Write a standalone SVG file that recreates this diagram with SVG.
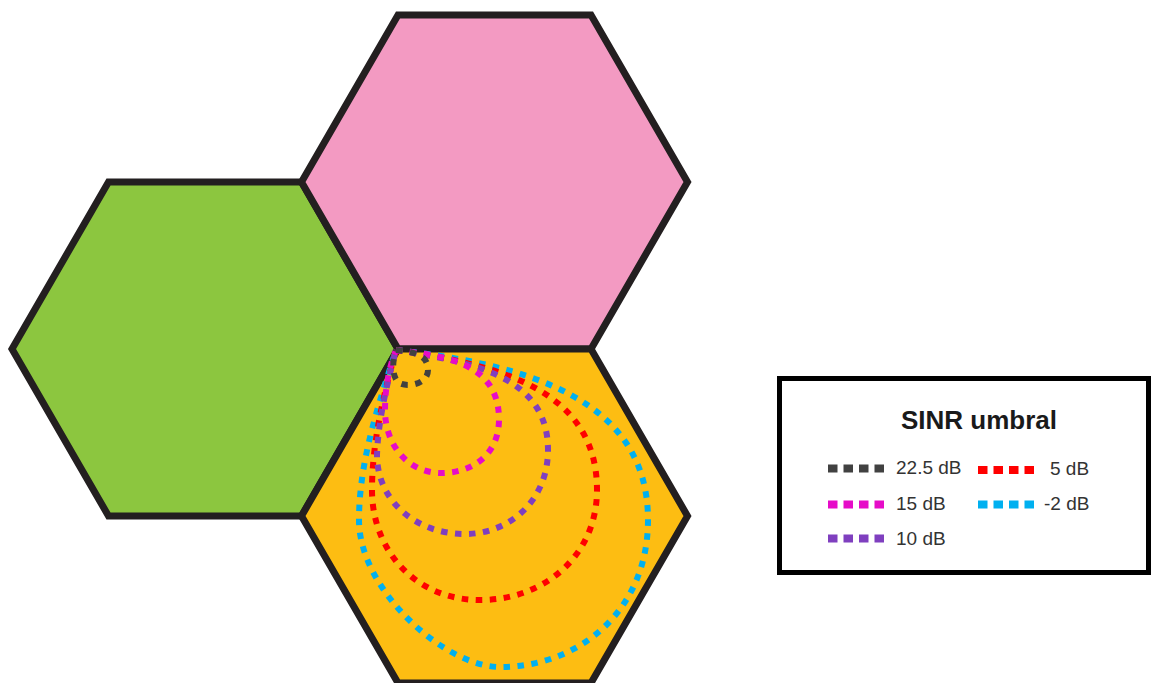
<svg xmlns="http://www.w3.org/2000/svg" width="1151" height="683" viewBox="0 0 1151 683">
<style>
.hex{stroke:#231f20;stroke-width:7;stroke-linejoin:miter}
.c{fill:none;stroke-width:6;stroke-dasharray:6.5 7.5}
.lg{fill:none;stroke-width:8;stroke-dasharray:9.5 6}
.t{font-family:"Liberation Sans",Arial,sans-serif;fill:#333333;font-size:19px}
.title{font-family:"Liberation Sans",Arial,sans-serif;fill:#1a1a1a;font-size:26px;font-weight:bold}
.g{stroke:#414141}.m{stroke:#e60cc8}.p{stroke:#7f3fbf}.r{stroke:#ff0000}.b{stroke:#00b0f0}
</style>
<rect width="1151" height="683" fill="#ffffff"/>
<g id="hex-green"><polygon class="hex" fill="#8cc63f" points="12,349 108.5,182 301.5,182 398,349 301.5,516 108.5,516"/></g>
<g id="hex-pink"><polygon class="hex" fill="#f39ac2" points="301.5,182 398,15 591,15 687.5,182 591,349 398,349"/></g>
<g id="hex-orange"><polygon class="hex" fill="#fdbd12" points="301.5,516 398,349 591,349 687.5,516 591,683 398,683"/></g>
<g id="connectors">
<path class="c b" d="M396,350 C530,365 648,400 648,520 C648,610 580,667 500,667 C445,667 359,590 359,520 C359,460 380,400 396,350"/>
<path class="c r" d="M396,350 C500,365 597,390 597,490 C597,555 545,600 480,600 C415,600 372,550 372,490 C372,440 385,390 396,350"/>
<path class="c p" d="M396,350 C470,362 548,375 548,450 C548,500 510,534 465,534 C415,534 377,500 377,455 C378,420 388,380 396,350"/>
<path class="c m" d="M396,350 C440,356 497,360 499,417 C500,455 472,473 441,473 C408,473 385,445 385,410 C385,385 390,365 396,350"/>
<path class="c g" d="M396,350 C415,352 428,355 428,370 C428,385 405,388 398,382 C392,376 392,362 396,350"/>
</g>
<g id="legend">
<rect x="779.5" y="378.5" width="369" height="194" fill="#ffffff" stroke="#000000" stroke-width="5"/>
<text class="title" x="979" y="429" text-anchor="middle">SINR umbral</text>
<line class="lg g" x1="828" y1="468.5" x2="884" y2="468.5"/>
<text class="t" x="896" y="474">22.5 dB</text>
<line class="lg m" x1="828" y1="504.5" x2="884" y2="504.5"/>
<text class="t" x="896" y="510">15 dB</text>
<line class="lg p" x1="828" y1="538.5" x2="884" y2="538.5"/>
<text class="t" x="896" y="545">10 dB</text>
<line class="lg r" x1="978" y1="470" x2="1034" y2="470"/>
<text class="t" x="1050" y="475">5 dB</text>
<line class="lg b" x1="978" y1="504.5" x2="1034" y2="504.5"/>
<text class="t" x="1044" y="510">-2 dB</text>
</g>
</svg>
